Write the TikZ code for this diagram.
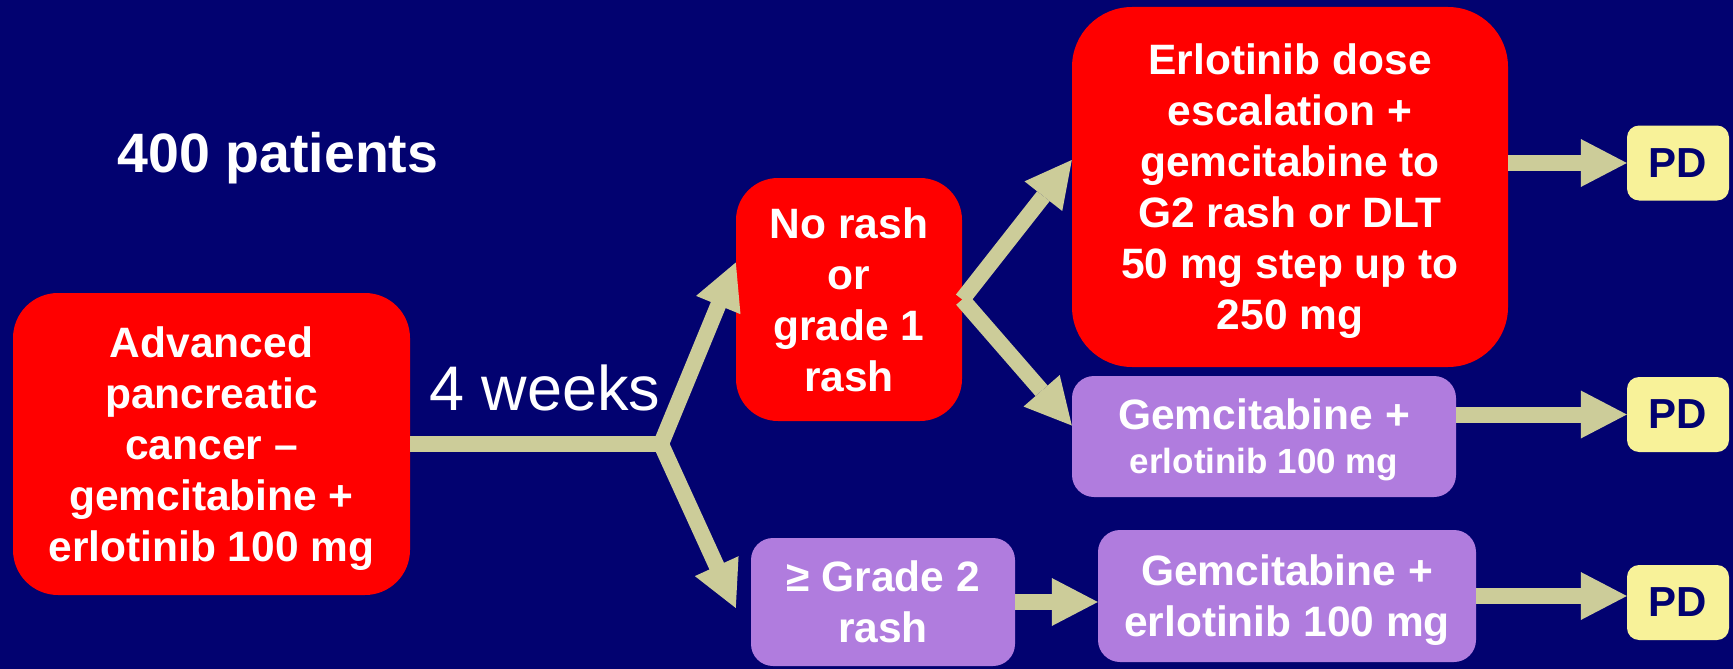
\documentclass[tikz,border=0pt]{standalone}
\usepackage{fontspec}
\setmainfont{Liberation Sans}
\usetikzlibrary{arrows.meta,calc}
\definecolor{slidebg}{RGB}{2,2,112}
\definecolor{khaki}{RGB}{204,204,153}
\definecolor{boxred}{RGB}{255,0,0}
\definecolor{lilac}{RGB}{176,124,222}
\definecolor{pdyellow}{RGB}{248,242,153}
\tikzset{
	redbox/.style={fill=boxred, text=white, inner sep=0pt, text depth=0pt, align=center, font=\fontsize{42.5}{51}\selectfont\bfseries},
	lilacbox/.style={fill=lilac, text=white, inner sep=0pt, text depth=0pt, rounded corners=22pt, align=center, font=\fontsize{42.5}{51}\selectfont\bfseries},
	pdbox/.style={fill=pdyellow, text=slidebg, inner sep=0pt, rounded corners=12pt, minimum width=102pt, minimum height=75pt, font=\fontsize{42}{50}\selectfont\bfseries},
	flow/.style={draw=khaki, line width=16pt},
	flowarrow/.style={flow, -{Triangle[length=46pt,width=48pt,line width=0pt]}},
}
\begin{document}
\begin{tikzpicture}[x=1pt,y=-1pt]
				\fill[slidebg] (0,0) rectangle (1733,669);
				\useasboundingbox (0,0) rectangle (1733,669);
				\node[anchor=base, text=white, font=\fontsize{55.5}{66}\selectfont\bfseries] (count) at (278,172) {400 patients};
				\node[redbox, rounded corners=45pt, minimum width=397pt, minimum height=302pt] (start) at (211.5,444)
				{Advanced\\pancreatic\\cancer –\\gemcitabine +\\erlotinib 100 mg};
				\node[redbox, rounded corners=42pt, minimum width=226pt, minimum height=243pt] (norash) at (849,299.5)
				{No rash\\or\\grade 1\\rash};
				\node[redbox, rounded corners=60pt, minimum width=436pt, minimum height=360pt] (erl) at (1290,187)
				{Erlotinib dose\\escalation +\\gemcitabine to\\G2 rash or DLT\\50 mg step up to\\250 mg};
				\node[lilacbox, minimum width=384pt, minimum height=121pt] (gem1) at (1264,436.5)
				{{\fontsize{42.5}{51}\selectfont Gemcitabine +}\\[-7pt]{\fontsize{35}{42}\selectfont erlotinib 100 mg}};
				\node[lilacbox, minimum width=264pt, minimum height=128pt] (grade2) at (883,602)
				{≥ Grade 2\\rash};
				\node[lilacbox, minimum width=378pt, minimum height=132pt] (gem3) at (1287,596)
				{Gemcitabine +\\erlotinib 100 mg};
				\node[pdbox] (pd1) at (1678,163) {PD};
				\node[pdbox] (pd2) at (1678,414.5) {PD};
				\node[pdbox] (pd3) at (1678,602.5) {PD};
				\node[anchor=base, text=white, font=\fontsize{63}{75}\selectfont] (weeks) at (545,410) {4 weeks};
				\coordinate (fork) at (661,444);
				\draw[flow] (start.east) -- (fork);
				\draw[flowarrow, line cap=round] (fork) -- ($(norash.west)+(0,-37)$);
				\draw[flowarrow, line cap=round] (fork) -- ($(grade2.west)+(-15,6)$);
				\draw[flowarrow] (norash.east) -- ($(erl.west)+(0,-27)$);
				\draw[flowarrow] (norash.east) -- ($(gem1.west)+(0,-11)$);
				\draw[flowarrow] (grade2.east) -- (grade2.east -| gem3.west);
				\draw[flowarrow] (erl.east |- pd1.west) -- (pd1.west);
				\draw[flowarrow] (gem1.east |- pd2.west) -- (pd2.west);
				\draw[flowarrow] (gem3.east) -- (gem3.east -| pd3.west);
\end{tikzpicture}
\end{document}
